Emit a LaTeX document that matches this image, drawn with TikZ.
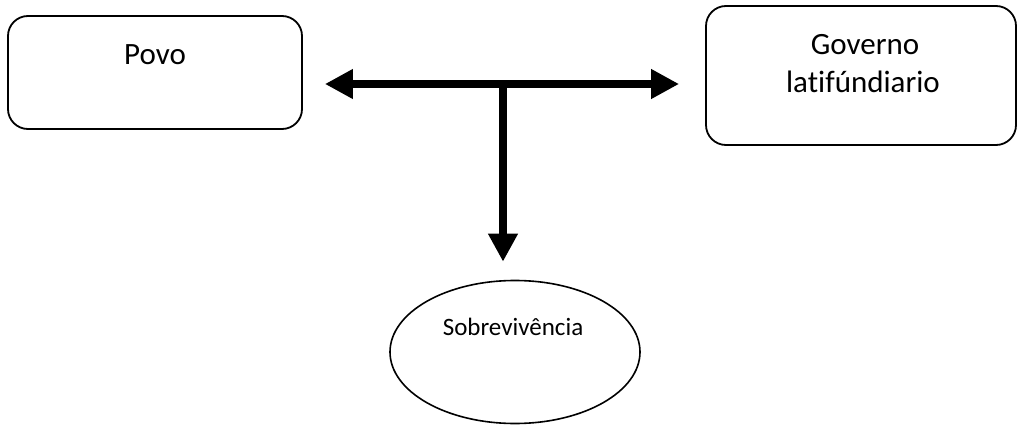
\documentclass[tikz,border=0pt]{standalone}
\usepackage{fontspec}
\setmainfont[Ligatures=NoCommon]{Carlito}
\usetikzlibrary{arrows.meta,shapes.geometric}
\tikzset{
  box/.style={draw=black, line width=1.8pt, rounded corners=20pt, inner sep=0pt},
  oval/.style={draw=black, line width=1.6pt, ellipse, inner sep=0pt},
  bigtxt/.style={font=\fontsize{31}{38}\selectfont, anchor=base, inner sep=0pt},
  smalltxt/.style={font=\fontsize{25}{30}\selectfont, anchor=base, inner sep=0pt},
  thick arrow/.style={line width=8pt, -{Triangle[length=28pt,width=28pt]}}
}
\begin{document}
\begin{tikzpicture}[x=1pt,y=-1pt]
  \useasboundingbox (0,0) rectangle (1018,425);
  % boxes
  \node[box, minimum width=294pt, minimum height=113pt] (povo) at (155,72.5) {};
  \node[box, minimum width=310pt, minimum height=139pt] (gov) at (861,75.5) {};
  \node[oval, minimum width=250pt, minimum height=143pt] (sob) at (515,352) {};
  % labels
  \node[bigtxt] (povotxt) at (155,65) {Povo};
  \node[bigtxt] (govtxt1) at (865,55) {Governo};
  \node[bigtxt] (govtxt2) at (863,93) {latifúndiario};
  \node[smalltxt] (sobtxt) at (513,335) {Sobrevivência};
  % junction of the three arrows
  \coordinate (j) at (503,84);
  \draw[thick arrow, shorten >=22pt] (j) -- (j -| povo.east);
  \draw[thick arrow, shorten >=26pt] (j) -- (j -| gov.west);
  \draw[thick arrow, shorten >=18pt] (j) -- (j |- sob.north);
\end{tikzpicture}
\end{document}
